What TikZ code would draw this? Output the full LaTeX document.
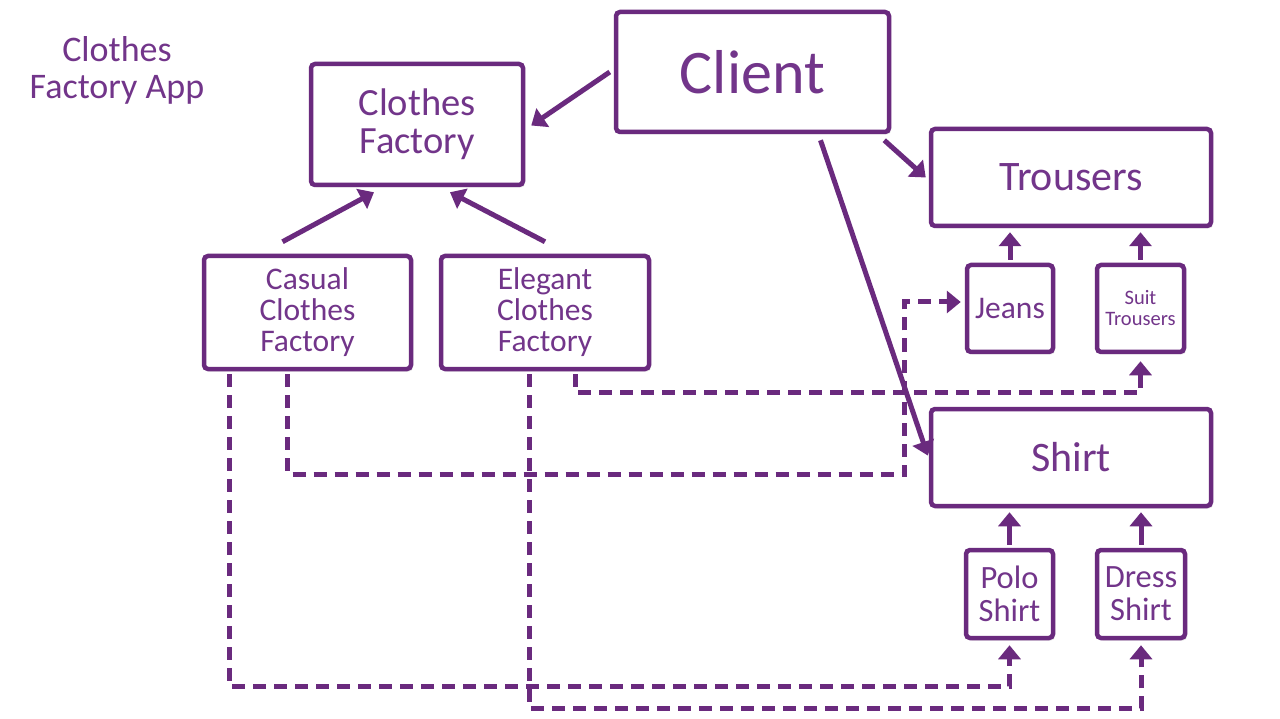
\documentclass[tikz,border=0pt]{standalone}
\usepackage{fontspec}
\setmainfont{Carlito}
\usetikzlibrary{arrows.meta,calc,shadows}
\definecolor{pline}{HTML}{6A2A7E}
\definecolor{ptext}{HTML}{72358A}
\begin{document}
\begin{tikzpicture}[x=1pt,y=-1pt,
  box/.style={draw=pline, line width=4.5pt, rounded corners=4pt, fill=white,
    text=ptext, align=center, inner sep=0pt,
    drop shadow={opacity=0.18, shadow xshift=2pt, shadow yshift=-2.5pt}},
  fs/.style 2 args={font=\fontsize{#1}{#2}\selectfont},
  tip/.style={-{Triangle[width=22pt,length=14pt]}},
  arr/.style={draw=pline, line width=5pt, tip},
  darr/.style={draw=pline, line width=5pt, dash pattern=on 13pt off 8pt, tip}]
\useasboundingbox[fill=white] (0,0) rectangle (1280,719);

\node[text=ptext, align=center, fs={36}{37}] (title) at (117,70) {Clothes\\Factory App};

\node[box, minimum width=273pt, minimum height=120pt, fs={62}{64}] (client) at (752.5,72) {Client};
\node[box, minimum width=212pt, minimum height=121pt, fs={38.5}{38}] (cf) at (417,124.5) {Clothes\\Factory};
\node[box, minimum width=207pt, minimum height=113pt, fs={31.5}{31}] (casual) at (307.5,312.5) {Casual\\Clothes\\Factory};
\node[box, minimum width=208pt, minimum height=113pt, fs={31.5}{31}] (elegant) at (545,312.5) {Elegant\\Clothes\\Factory};
\node[box, minimum width=280pt, minimum height=97pt, fs={42}{44}] (trousers) at (1071,177.5) {Trousers};
\node[box, minimum width=86pt, minimum height=87pt, fs={31.5}{32}] (jeans) at (1010,308.5) {Jeans};
\node[box, minimum width=87pt, minimum height=87pt, fs={20.5}{21}] (suit) at (1140.5,308.5) {Suit\\Trousers};
\node[box, minimum width=280pt, minimum height=97pt, fs={42}{44}] (shirt) at (1071,457.5) {Shirt};
\node[box, minimum width=87pt, minimum height=88pt, fs={32.5}{33}] (polo) at (1009.5,594) {Polo\\Shirt};
\node[box, minimum width=88pt, minimum height=88pt, fs={32.5}{33}] (dress) at (1141,594) {Dress\\Shirt};

% solid arrows
\draw[arr] ($(client.west)+(-4,0)$) -- ($(cf.east)+(6,1)$);
\draw[arr] ($(client.south east)+(-7,6)$) -- ($(trousers.west)+(-3,0)$);
\draw[arr] ($(client.south)+(68,6)$) -- ($(shirt.west)+(-1,-2)$);
\draw[arr] ($(casual.north)+(-25,-12)$) -- ($(cf.south)+(-43,5)$);
\draw[arr] ($(elegant.north)+(0,-12)$) -- ($(cf.south)+(33,5)$);
\draw[arr] ($(jeans.north)+(0,-3)$) -- ($(jeans.north |- trousers.south)+(0,4)$);
\draw[arr] ($(suit.north)+(0,-3)$) -- ($(suit.north |- trousers.south)+(0,4)$);
\draw[arr] ($(polo.north)+(0,-3)$) -- ($(polo.north |- shirt.south)+(0,4)$);
\draw[arr] ($(dress.north)+(0,-3)$) -- ($(dress.north |- shirt.south)+(0,4)$);

% dashed arrows
\draw[darr] ($(casual.south)+(-20,3)$) -- ++(0,100) -| ($(jeans.west)+(-60,-6.5)$) -- ($(jeans.west)+(-4,-6.5)$);
\draw[darr] ($(elegant.south)+(30,3)$) -- ++(0,18) -| ($(suit.south)+(0,7)$);
\draw[darr] ($(casual.south)+(-78.5,3)$) -- ++(0,312) -| ($(polo.south)+(0,5)$);
\draw[darr] ($(elegant.south)+(-16,3)$) -- ++(0,334) -| ($(dress.south)+(0,5)$);
\end{tikzpicture}
\end{document}
